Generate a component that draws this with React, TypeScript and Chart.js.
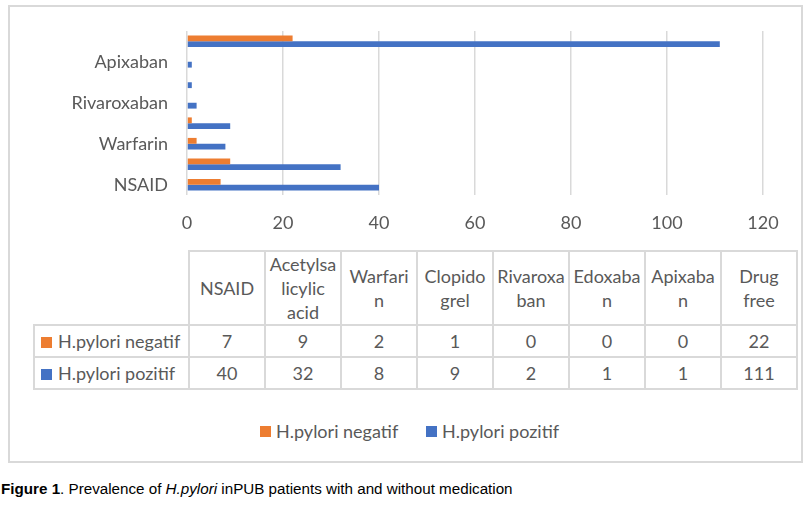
import { useEffect, useRef } from "react";
import Chart from "chart.js/auto";

// categories, bottom to top on the chart, left to right in the table
const categories = ["NSAID", "Acetylsalicylic acid", "Warfarin", "Clopidogrel", "Rivaroxaban", "Edoxaban", "Apixaban", "Drug free"];
// how the table header wraps each category
const headerLines = [
    ["NSAID"],
    ["Acetylsa", "licylic", "acid"],
    ["Warfari", "n"],
    ["Clopido", "grel"],
    ["Rivaroxa", "ban"],
    ["Edoxaba", "n"],
    ["Apixaba", "n"],
    ["Drug", "free"],
];
const negatif = [7, 9, 2, 1, 0, 0, 0, 22];
const pozitif = [40, 32, 8, 9, 2, 1, 1, 111];
const xTicks = [0, 20, 40, 60, 80, 100, 120];

const ORANGE = "#ED7D31";
const BLUE = "#4472C4";
const TEXT = "#595959";
const GRID = "#d9d9d9";
const FONT = "Lato, 'Open Sans', sans-serif";
const FONT_SIZE = 18;

const series = [
    { label: "H.pylori negatif", values: negatif, color: ORANGE },
    { label: "H.pylori pozitif", values: pozitif, color: BLUE },
];

function BarChart() {
    const canvasRef = useRef<HTMLCanvasElement | null>(null);

    useEffect(() => {
        if (!canvasRef.current) {
            return;
        }

        const chart = new Chart(canvasRef.current, {
            type: "bar",
            data: {
                labels: categories,
                datasets: series.map((s) => ({
                    label: s.label,
                    data: s.values,
                    backgroundColor: s.color,
                    barPercentage: 1,
                    categoryPercentage: 0.57,
                })),
            },
            options: {
                indexAxis: "y",
                animation: false,
                responsive: false,
                maintainAspectRatio: false,
                layout: { padding: { top: 25, right: 40, left: 0, bottom: 0 } },
                plugins: {
                    legend: { display: false },
                    tooltip: { enabled: false },
                },
                scales: {
                    x: {
                        min: xTicks[0],
                        max: xTicks[xTicks.length - 1],
                        afterBuildTicks: (scale) => {
                            scale.ticks = xTicks.map((v) => ({ value: v }));
                        },
                        afterFit: (scale) => {
                            scale.height = 45;
                            scale.paddingLeft = 0;
                            scale.paddingRight = 0;
                        },
                        grid: { color: GRID, lineWidth: 1.5, drawTicks: false },
                        border: { display: false },
                        ticks: { color: TEXT, padding: 17, font: { family: FONT, size: FONT_SIZE } },
                    },
                    y: {
                        reverse: true,
                        afterFit: (scale) => {
                            scale.width = 178;
                            scale.paddingTop = 0;
                            scale.paddingBottom = 0;
                        },
                        grid: { display: false },
                        border: { display: false },
                        ticks: {
                            color: TEXT,
                            padding: 11,
                            autoSkip: false,
                            font: { family: FONT, size: FONT_SIZE },
                            callback: (_v, i) => (i % 2 === 0 ? categories[i] : ""),
                        },
                    },
                },
            },
        });

        return () => chart.destroy();
    }, []);

    return <canvas ref={canvasRef} width={794} height={234} style={{ position: "absolute", left: 9, top: 6, width: 794, height: 234 }} />;
}

const cell: React.CSSProperties = {
    border: `2px solid ${GRID}`,
    padding: 0,
    textAlign: "center",
    verticalAlign: "middle",
    width: 74,
};

export default function App() {
    return (
        <div style={{ position: "absolute", left: 0, top: 0, width: 812, height: 517, background: "#fff", overflow: "hidden" }}>
            <div style={{ position: "absolute", left: 8, top: 5, width: 795, height: 458, border: `2px solid ${GRID}`, boxSizing: "border-box" }} />
            <BarChart />
            <table
                style={{
                    position: "absolute",
                    left: 33,
                    top: 250,
                    width: 745,
                    borderCollapse: "collapse",
                    tableLayout: "fixed",
                    fontFamily: FONT,
                    fontSize: FONT_SIZE,
                    lineHeight: "24px",
                    color: TEXT,
                }}
            >
                <tbody>
                    <tr style={{ height: 74 }}>
                        <td style={{ ...cell, width: 154, borderTop: "none", borderLeft: "none" }} />
                        {headerLines.map((lines, i) => (
                            <td key={i} style={{ ...cell, whiteSpace: "nowrap" }}>
                                {lines.map((l, j) => (
                                    <div key={j}>{l}</div>
                                ))}
                            </td>
                        ))}
                    </tr>
                    {series.map((s) => (
                        <tr key={s.label} style={{ height: 32 }}>
                            <td style={{ ...cell, width: 154, textAlign: "left", whiteSpace: "nowrap" }}>
                                <span style={{ display: "inline-block", width: 11, height: 11, background: s.color, marginLeft: 6, marginRight: 6 }} />
                                {s.label}
                            </td>
                            {s.values.map((v, i) => (
                                <td key={i} style={cell}>
                                    {v}
                                </td>
                            ))}
                        </tr>
                    ))}
                </tbody>
            </table>
            {series.map((s, i) => (
                <div
                    key={s.label}
                    style={{
                        position: "absolute",
                        left: i === 0 ? 260 : 426,
                        top: 418,
                        display: "flex",
                        alignItems: "center",
                        fontFamily: FONT,
                        fontSize: FONT_SIZE,
                        lineHeight: "26px",
                        color: TEXT,
                        whiteSpace: "nowrap",
                    }}
                >
                    <span style={{ display: "inline-block", width: 11, height: 11, background: s.color, marginRight: 5 }} />
                    {s.label}
                </div>
            ))}
            <div style={{ position: "absolute", left: 1, top: 480, fontFamily: "'Liberation Sans', Arial, sans-serif", fontSize: 15.2, color: "#000", whiteSpace: "nowrap" }}>
                <b>Figure 1</b>. Prevalence of <i>H.pylori</i> inPUB patients with and without medication
            </div>
        </div>
    );
}
